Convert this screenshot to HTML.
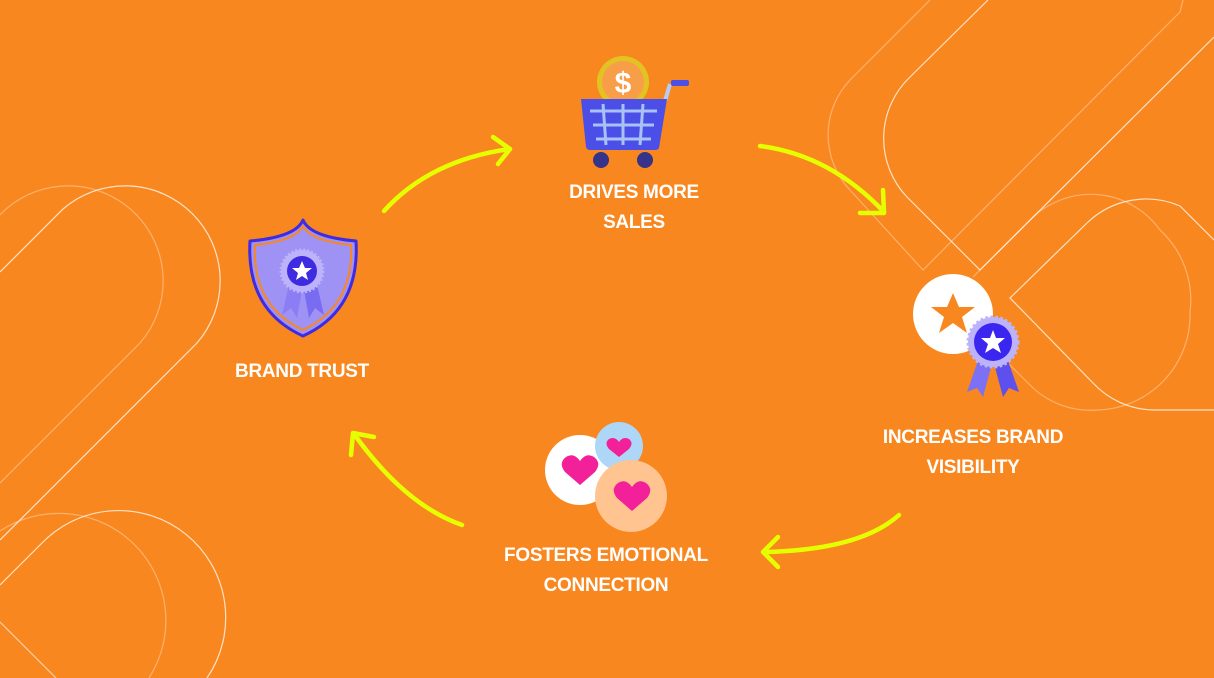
<!DOCTYPE html>
<html><head><meta charset="utf-8"><style>
html,body{margin:0;padding:0}
body{width:1214px;height:678px;background:#F9871F;position:relative;overflow:hidden;font-family:"Liberation Sans",sans-serif}
.t{position:absolute;color:#fff;font-weight:bold;font-size:19px;text-align:center;line-height:30px;letter-spacing:-0.3px;white-space:nowrap}
svg{position:absolute;left:0;top:0}
</style></head><body>
<svg width="1214" height="678" viewBox="0 0 1214 678">
<g fill="none" stroke="#fff" stroke-width="1.2">
 <!-- left capsules -->
 <path d="M0,540 L197,343 A95,95 0 0 0 63,209 L0,272" stroke-opacity="0.75"/>
 <path d="M0,483 L140,343 A95,95 0 0 0 6,209 L0,215" stroke-opacity="0.35"/>
 <path d="M0,585 L41,544 A107,107 0 0 1 207,678" stroke-opacity="0.75"/>
 <path d="M0,531 A107,107 0 0 1 149,678" stroke-opacity="0.35"/>
 <path d="M0,622 L56,678" stroke-opacity="0.6"/>
 <!-- top right capsules -->
 <path d="M988,0 L910,77 A85,85 0 0 0 907,197 L980,270 L1214,37" stroke-opacity="0.75"/>
 <path d="M930,0 L850,80 A80,80 0 0 0 850,190 L923,270 L1180,12 L1183,0" stroke-opacity="0.35"/>
 <!-- lower right capsules -->
 <path d="M1214,240 L1180,206 A85,85 0 0 0 1087,223 L1010,298 L1093,383 A85,85 0 0 0 1153,410 L1214,410" stroke-opacity="0.75"/>
 <path d="M973,277 L1033,217 A85,85 0 0 1 1160,230 A95,95 0 0 1 1190,312 A95,95 0 0 1 1097,410 A85,85 0 0 1 1030,385 L955,310" stroke-opacity="0.35"/>
</g>
<!-- arrows -->
<g fill="none" stroke="#E6FF00" stroke-width="4.5" stroke-linecap="round" stroke-linejoin="round">
 <path d="M384,211 Q430,160 510,149"/><path d="M493,137 L510,149 L498,164"/>
 <path d="M760,146 Q830,155 884,212"/><path d="M860,213 L884,213 L883,190"/>
 <path d="M899,515 Q860,550 764,552"/><path d="M778,537 L763,552 L778,567"/>
 <path d="M462,525 Q405,505 354,434"/><path d="M374,437 L353,433 L351,455"/>
</g>
<!-- cart -->
<circle cx="623" cy="82" r="26" fill="#E3C224"/>
<circle cx="623" cy="82" r="21" fill="#F99E48"/>
<text x="623" y="93" font-family="Liberation Sans" font-weight="bold" font-size="30" fill="#fff" text-anchor="middle">$</text>
<path d="M665,101 L670,84" stroke="#B7CDF5" stroke-width="4"/>
<rect x="671" y="80" width="18" height="6" rx="2" fill="#4B4FE8"/>
<path d="M581,99 L667,99 L659,148 Q658,150 655,150 L590,150 Q587,150 586,147 Z" fill="#4B4FE8"/>
<g stroke="#A9C2F5" stroke-width="3">
<path d="M590,111 L657,111 M593,125 L654,125 M596,139 L651,139 M603,104 L606,145 M623,104 L623,145 M643,104 L640,145"/>
</g>
<circle cx="601" cy="160" r="8" fill="#35338A"/><circle cx="645" cy="160" r="8" fill="#35338A"/>
<!-- shield -->
<path d="M303,220 Q310,237 356,241 Q360,310 303,336 Q246,310 250,241 Q296,237 303,220 Z" fill="#9E93F5" stroke="#3F2BE0" stroke-width="3" stroke-linejoin="round"/>
<path d="M303,226 Q311,241 351,245 Q354,306 303,330 Q252,306 255,245 Q295,241 303,226 Z" fill="none" stroke="#F9871F" stroke-width="2"/>
<path d="M290,280 L282,315 L291,308 L297,318 L303,285 Z" fill="#8B7EF5"/>
<path d="M316,280 L324,315 L315,308 L309,318 L303,285 Z" fill="#7A6CF0"/>
<circle cx="302" cy="271" r="21" fill="#BCB3FA" stroke="#BCB3FA" stroke-width="3" stroke-dasharray="2 2"/>
<circle cx="302" cy="271" r="15" fill="#3F2BE0"/>
<polygon points="302,261 305,268 312,268 306,273 308,280 302,276 296,280 298,273 292,268 299,268" fill="#fff"/>
<!-- visibility -->
<circle cx="953" cy="314" r="40" fill="#fff"/>
<polygon points="953,293 959,307 975,307 962,317 967,333 953,323 939,333 944,317 931,307 947,307" fill="#F9871F"/>
<path d="M980,355 L967,392 L977,388 L983,397 L993,360 Z" fill="#7C70F5"/>
<path d="M1006,355 L1019,392 L1009,388 L1003,397 L993,360 Z" fill="#5E50EE"/>
<circle cx="993" cy="342" r="25" fill="#BCB3FA" stroke="#BCB3FA" stroke-width="3" stroke-dasharray="2.5 2.5"/>
<circle cx="993" cy="342" r="19" fill="#3B26F0"/>
<polygon points="993,330 996,338 1005,338 998,344 1001,353 993,348 985,353 988,344 981,338 990,338" fill="#fff"/>
<!-- hearts -->
<circle cx="580" cy="470" r="35" fill="#fff"/>
<circle cx="619" cy="446" r="24" fill="#AED6F7"/>
<circle cx="631" cy="496" r="36" fill="#FFC48F"/>
<g fill="#F2219A">
<path d="M580,485 L565,472 Q558,463 566,457 Q574,452 580,461 Q586,452 594,457 Q602,463 595,472 Z"/>
<path d="M619,457 L609,449 Q604,443 609,439 Q615,436 619,442 Q623,436 629,439 Q634,443 629,449 Z"/>
<path d="M632,511 L617,498 Q610,489 618,483 Q626,478 632,487 Q638,478 646,483 Q654,489 647,498 Z"/>
</g>
</svg>
<div class="t" style="left:534px;top:178px;width:200px">DRIVES MORE<br>SALES</div>
<div class="t" style="left:202px;top:357px;width:200px">BRAND TRUST</div>
<div class="t" style="left:853px;top:423px;width:240px">INCREASES BRAND<br>VISIBILITY</div>
<div class="t" style="left:486px;top:541px;width:240px">FOSTERS EMOTIONAL<br>CONNECTION</div>
</body></html>
